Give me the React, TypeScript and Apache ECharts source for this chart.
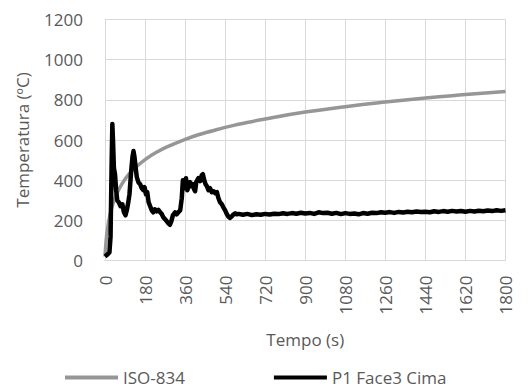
import React, { useEffect, useRef } from "react";
import * as echarts from "echarts";

const xTicks = [0, 180, 360, 540, 720, 900, 1080, 1260, 1440, 1620, 1800];

const isoTimes = [0, 5, 10, 20, 30, 45, 60, 90, 120, 180, 240, 300, 360, 420, 480, 540, 600, 720, 900, 1080, 1260, 1440, 1620, 1800];
const isoValues = [20, 97, 147, 215, 261, 312, 349, 404, 445, 502, 544, 576, 603, 626, 645, 663, 678, 705, 739, 766, 789, 809, 826, 842];

const p1Times = [
  0, 8, 20, 25, 30, 33, 36, 40, 45, 50, 55, 62, 70, 78, 85, 92, 98, 104, 110, 118, 124, 128, 132, 138, 143, 150,
  158, 165, 172, 178, 184, 190, 196, 203, 210, 217, 224, 232, 240, 248, 256, 262, 270, 278, 285, 292, 298, 305,
  315, 322, 330, 338, 345, 350, 354, 358, 364, 370, 376, 382, 388, 395, 400, 405, 410, 415, 420, 428, 435, 440,
  446, 452, 458, 465, 472, 480, 488, 495, 503, 510, 517, 525, 532, 540, 548, 555, 562, 570, 578, 585, 592, 600,
  620, 640, 660, 680, 700, 720, 740, 760, 780, 800, 820, 840, 860, 880, 900, 920, 940, 960, 980, 1000, 1020,
  1040, 1060, 1080, 1100, 1120, 1140, 1160, 1180, 1200, 1220, 1240, 1260, 1280, 1300, 1320, 1340, 1360, 1380,
  1400, 1420, 1440, 1460, 1480, 1500, 1520, 1540, 1560, 1580, 1600, 1620, 1640, 1660, 1680, 1700, 1720, 1740,
  1760, 1780, 1800,
];
const p1Values = [
  20, 27, 40, 120, 500, 680, 600, 460, 430, 350, 300, 290, 270, 280, 240, 225, 250, 285, 330, 450, 520, 545, 520,
  460, 415, 390, 380, 360, 350, 365, 330, 340, 290, 270, 250, 240, 255, 245, 252, 240, 230, 215, 205, 195, 185,
  178, 195, 225, 240, 230, 240, 250, 310, 400, 380, 360, 410, 350, 370, 390, 370, 380, 355, 345, 390, 400, 410,
  395, 425, 430, 400, 380, 370, 350, 360, 340, 345, 335, 340, 310, 290, 280, 265, 250, 230, 218, 212, 220, 230,
  235, 230, 232, 228, 232, 226, 230, 228, 232, 229, 233, 231, 235, 232, 236, 233, 238, 234, 237, 232, 240, 236,
  238, 233, 237, 231, 236, 232, 234, 230, 236, 233, 238, 236, 240, 238, 241, 237, 242, 239, 243, 240, 244, 241,
  243, 240, 245, 242, 246, 243, 247, 244, 246, 243, 247, 244, 248, 245, 249, 246, 250, 247, 250,
];

const FONT = "Open Sans";
const TXT = "#595959";

export default function App() {
  const ref = useRef<HTMLDivElement>(null);
  useEffect(() => {
    if (!ref.current) return;
    const chart = echarts.init(ref.current, undefined, { renderer: "svg" });
    chart.setOption({
      animation: false,
      backgroundColor: "#ffffff",
      textStyle: { fontFamily: FONT, color: TXT },
      grid: { left: 105, right: 25.5, top: 19.5, bottom: 131.5, containLabel: false, outerBoundsMode: "none" },
      legend: {
        left: 65,
        top: 369,
        padding: 0,
        itemGap: 89,
        itemWidth: 53,
        itemHeight: 4,
        icon: "rect",
        textStyle: { fontFamily: FONT, fontSize: 17, color: TXT, padding: [0, 0, 0, 0] },
        data: ["ISO-834", "P1 Face3 Cima"],
      },
      xAxis: {
        type: "value",
        min: 0,
        max: 1800,
        interval: 180,
        name: "Tempo (s)",
        nameLocation: "middle",
        nameGap: 70,
        nameTextStyle: { fontFamily: FONT, fontSize: 17, color: TXT },
        axisLine: { show: true, lineStyle: { color: "#d9d9d9", width: 1 } },
        axisTick: { show: false },
        splitLine: { show: true, lineStyle: { color: "#d9d9d9", width: 1 } },
        axisLabel: {
          rotate: 90,
          margin: 15,
          fontFamily: FONT,
          fontSize: 17,
          color: TXT,
          formatter: (v: number) => String(v),
          customValues: xTicks,
        },
      },
      yAxis: {
        type: "value",
        min: 0,
        max: 1200,
        interval: 200,
        name: "Temperatura (ºC)",
        nameLocation: "middle",
        nameGap: 74,
        nameTextStyle: { fontFamily: FONT, fontSize: 17, color: TXT },
        axisLine: { show: true, lineStyle: { color: "#d9d9d9", width: 1 } },
        axisTick: { show: false },
        splitLine: { show: true, lineStyle: { color: "#d9d9d9", width: 1 } },
        axisLabel: { margin: 22, fontFamily: FONT, fontSize: 17, color: TXT, formatter: (v: number) => String(v) },
      },
      series: [
        {
          name: "ISO-834",
          type: "line",
          showSymbol: false,
          smooth: true,
          data: isoTimes.map((t, i) => [t, isoValues[i]]),
          lineStyle: { color: "#969696", width: 3.5 },
          itemStyle: { color: "#969696" },
          z: 2,
        },
        {
          name: "P1 Face3 Cima",
          type: "line",
          showSymbol: false,
          data: p1Times.map((t, i) => [t, p1Values[i]]),
          lineStyle: { color: "#000000", width: 4.5, join: "round" },
          itemStyle: { color: "#000000" },
          z: 3,
        },
      ],
    });
    return () => chart.dispose();
  }, []);
  return <div ref={ref} style={{ width: 531, height: 392, position: "absolute", left: 0, top: 0 }} />;
}
